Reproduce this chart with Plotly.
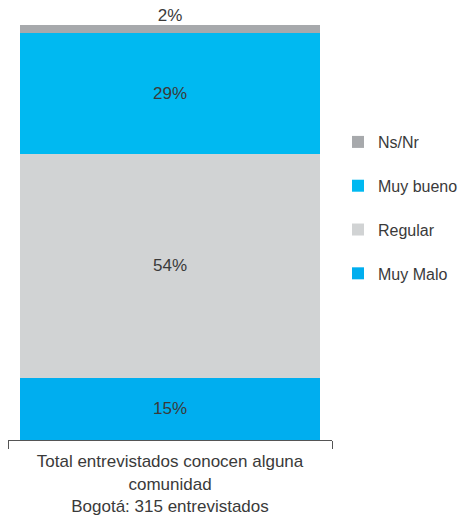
import plotly.graph_objects as go

category = ["Total entrevistados conocen alguna<br>comunidad<br>Bogotá: 315 entrevistados"]
series_names = ["Muy Malo", "Regular", "Muy bueno", "Ns/Nr"]
muy_malo = [15]
regular = [54]
muy_bueno = [29]
ns_nr = [2]
values = [muy_malo, regular, muy_bueno, ns_nr]
colors = ["#00AEEF", "#D1D3D4", "#00B9F1", "#A7A9AC"]

FONT = "Liberation Sans, Arial, Helvetica, sans-serif"
TXT = "#3a3a3a"
FS = 17

fig = go.Figure()
n = len(series_names)
for i, (name, vals, col) in enumerate(zip(series_names, values, colors)):
    last = i == n - 1
    fig.add_trace(go.Bar(
        x=category, y=vals, name=name,
        marker=dict(color=col, line=dict(width=0)),
        width=0.923,
        text=None if last else [f"{v}%" for v in vals],
        textposition="inside",
        insidetextanchor="middle",
        textfont=dict(size=FS, color=TXT, family=FONT),
        constraintext="none",
        legendgroup=name,
        legendrank=n - i,
        hoverinfo="skip",
    ))

# label of the top (thin) segment, placed just above the stack total
stack_total = [sum(v[0] for v in values)]
fig.add_trace(go.Scatter(
    x=category, y=stack_total, mode="text",
    text=[f"{ns_nr[0]}%"], textposition="top center",
    textfont=dict(size=FS, color=TXT, family=FONT),
    cliponaxis=False, showlegend=False, hoverinfo="skip",
))

fig.update_layout(
    width=463, height=523,
    barmode="stack",
    margin=dict(l=8, r=131, t=25, b=83, autoexpand=False),
    paper_bgcolor="white", plot_bgcolor="white",
    font=dict(family=FONT, size=FS, color=TXT),
    showlegend=True,
    legend=dict(
        traceorder="grouped", tracegroupgap=20,
        x=1.0185, xanchor="left", y=0.759, yanchor="top",
        font=dict(size=16, color=TXT, family=FONT),
        itemwidth=30, bgcolor="rgba(0,0,0,0)",
    ),
    xaxis=dict(
        showline=True, linecolor="#555555", linewidth=1,
        ticks="outside", tickson="boundaries", ticklen=8, tickcolor="#555555",
        tickfont=dict(size=FS, color=TXT, family=FONT),
        ticklabelstandoff=6,
        showgrid=False, zeroline=False, range=[-0.5, 0.5],
    ),
    yaxis=dict(range=[0, 100], visible=False, showgrid=False, zeroline=False),
)

fig.write_html(
    "out.html",
    config={"displayModeBar": False},
    post_script="document.body.style.margin='0';",
)
